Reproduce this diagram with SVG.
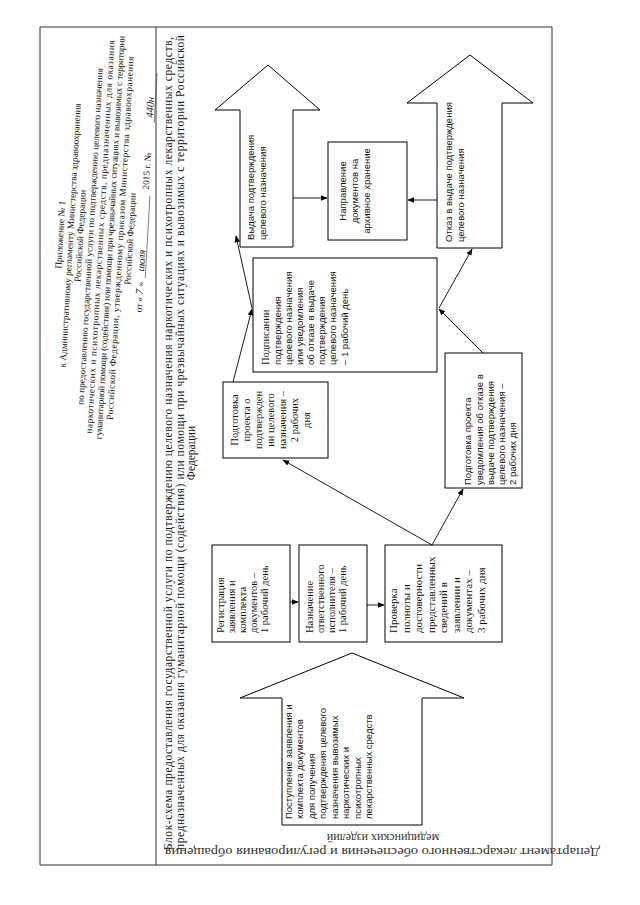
<svg xmlns="http://www.w3.org/2000/svg" width="640" height="905" viewBox="0 0 640 905">
<defs>
<marker id="ah" viewBox="0 0 10 10" refX="9" refY="5" markerWidth="7" markerHeight="7" orient="auto-start-reverse" markerUnits="userSpaceOnUse">
<path d="M0,1 L10,5 L0,9 z" fill="#000"/>
</marker>
<style>
.frame{stroke:#333;stroke-width:1;fill:none}
.box{fill:#fff;stroke:#000;stroke-width:1}
.ln{stroke:#000;stroke-width:0.9;fill:none}
.ul{stroke:#333;stroke-width:0.6;fill:none}
.s{font-family:"Liberation Sans",Arial,sans-serif;font-size:9.5px;fill:#111}
.r{font-family:"Liberation Serif","Times New Roman",serif;font-size:10.5px;fill:#111}
.r2{font-family:"Liberation Serif","Times New Roman",serif;font-size:11px;fill:#111}
.h{font-family:"Liberation Serif","Times New Roman",serif;font-size:9.3px;fill:#111}
.t{font-family:"Liberation Serif","Times New Roman",serif;font-size:11.5px;fill:#111}
.st{font-family:"Liberation Serif","Times New Roman",serif;font-size:12px;fill:#333}
.hw{font-family:"Liberation Serif","Times New Roman",serif;font-style:italic;font-size:10.5px;fill:#222}
</style>
</defs>
<rect width="640" height="905" fill="#fff"/>
<g transform="translate(0,905) rotate(-90)">
<g id="frame">
<line class="frame" x1="40" y1="40" x2="878" y2="40"/>
<line class="frame" x1="878" y1="40" x2="878" y2="552"/>
<line class="frame" x1="40" y1="40" x2="40" y2="552"/>
<line class="frame" x1="40" y1="552" x2="878" y2="552"/>
<line class="frame" x1="40" y1="156" x2="878" y2="156"/>
</g>
<g id="header" transform="rotate(3.3 668 100)">
<text class="h" text-anchor="middle" x="668" y="63.2">Приложение № 1</text>
<text class="h" text-anchor="middle" x="668" y="73.2">к Административному регламенту Министерства здравоохранения</text>
<text class="h" text-anchor="middle" x="668" y="83.2">Российской Федерации</text>
<text class="h" text-anchor="middle" x="668" y="93.2">по предоставлению государственной услуги по подтверждению целевого назначения</text>
<text class="h" x="471" y="103.2" textLength="394" lengthAdjust="spacing">наркотических и психотропных лекарственных средств, предназначенных для оказания</text>
<text class="h" x="466" y="113.2" textLength="404" lengthAdjust="spacing">гуманитарной помощи (содействия) или помощи при чрезвычайных ситуациях и вывозимых с территории</text>
<text class="h" x="486" y="123.2" textLength="364" lengthAdjust="spacing">Российской Федерации, утвержденному приказом Министерства здравоохранения</text>
<text class="h" text-anchor="middle" x="668" y="133.2">Российской Федерации</text>
<text class="h" x="595" y="146">от «</text>
<text class="hw" x="613" y="146">7</text>
<text class="h" x="621" y="146">»</text>
<text class="hw" x="636" y="146">июля</text>
<line class="ul" x1="630" y1="147.5" x2="712" y2="147.5"/>
<text class="h" x="718" y="146">2015 г. №</text>
<text class="hw" x="790" y="146">440н</text>
<line class="ul" x1="785" y1="147.5" x2="835" y2="147.5"/>
</g>
<g id="title">
<text class="t" x="55" y="172" textLength="813" lengthAdjust="spacing">Блок-схема предоставления государственной услуги по подтверждению целевого назначения наркотических и психотропных лекарственных средств,</text>
<text class="t" x="55" y="183.5" textLength="815" lengthAdjust="spacing">предназначенных для оказания гуманитарной помощи (содействия) или помощи при чрезвычайных ситуациях и вывозимых с территории Российской</text>
<text class="t" text-anchor="middle" x="452" y="195">Федерации</text>
</g>
<g id="n-postuplenie">
<polygon class="box" points="80,282 207,282 207,240 252,352 207,464 207,422 80,422"/>
<text class="s" x="86" y="291.5">Поступление заявления и</text>
<text class="s" x="86" y="303">комплекта документов</text>
<text class="s" x="86" y="314.5">для получения</text>
<text class="s" x="86" y="326">подтверждения целевого</text>
<text class="s" x="86" y="337.5">назначения вывозимых</text>
<text class="s" x="86" y="349">наркотических и</text>
<text class="s" x="86" y="360.5">психотропных</text>
<text class="s" x="86" y="372">лекарственных средств</text>
</g>
<g id="n-registr">
<rect class="box" x="263" y="212" width="97" height="78"/>
<text class="r" x="272" y="224">Регистрация</text>
<text class="r" x="272" y="235">заявления и</text>
<text class="r" x="272" y="246">комплекта</text>
<text class="r" x="272" y="257">документов –</text>
<text class="r" x="272" y="268">1 рабочий день</text>
</g>
<g id="n-naznach">
<rect class="box" x="263" y="299" width="97" height="68"/>
<text class="r" x="272" y="313">Назначение</text>
<text class="r" x="272" y="324">ответственного</text>
<text class="r" x="272" y="335">исполнителя –</text>
<text class="r" x="272" y="346">1 рабочий день</text>
</g>
<g id="n-proverka">
<rect class="box" x="263" y="385" width="97" height="117"/>
<text class="r2" x="272" y="397">Проверка</text>
<text class="r2" x="272" y="409.5">полноты и</text>
<text class="r2" x="272" y="422">достоверности</text>
<text class="r2" x="272" y="434.5">представленных</text>
<text class="r2" x="272" y="447">сведений в</text>
<text class="r2" x="272" y="459.5">заявлении и</text>
<text class="r2" x="272" y="472">документах –</text>
<text class="r2" x="272" y="484.5">3 рабочих дня</text>
</g>
<g id="n-podg-podtv">
<rect class="box" x="447" y="223" width="76" height="105"/>
<text class="r" text-anchor="middle" x="485" y="238">Подготовка</text>
<text class="r" text-anchor="middle" x="485" y="250">проекта о</text>
<text class="r" text-anchor="middle" x="485" y="262">подтвержден</text>
<text class="r" text-anchor="middle" x="485" y="274">ии целевого</text>
<text class="r" text-anchor="middle" x="485" y="286">назначения –</text>
<text class="r" text-anchor="middle" x="485" y="298">2 рабочих</text>
<text class="r" text-anchor="middle" x="485" y="310">дня</text>
</g>
<g id="n-podg-uved">
<rect class="box" x="417" y="445" width="135" height="77"/>
<text class="s" x="420" y="471">Подготовка проекта</text>
<text class="s" x="420" y="483">уведомления об отказе в</text>
<text class="s" x="420" y="494">выдаче подтверждения</text>
<text class="s" x="420" y="505">целевого назначения –</text>
<text class="s" x="420" y="516">2 рабочих дня</text>
</g>
<g id="n-podpisanie">
<rect class="box" x="533" y="253" width="114" height="184"/>
<text class="r" x="540" y="269">Подписании</text>
<text class="s" x="540" y="281">подтверждения</text>
<text class="s" x="540" y="292">целевого назначения</text>
<text class="s" x="540" y="303">или уведомления</text>
<text class="s" x="540" y="314">об отказе в выдаче</text>
<text class="s" x="540" y="325">подтверждения</text>
<text class="s" x="540" y="336">целевого назначения</text>
<text class="s" x="540" y="348">– 1 рабочий день</text>
</g>
<g id="n-vydacha">
<polygon class="box" points="658,240 795,240 795,215 840,268 795,320 795,293 658,293"/>
<text class="s" x="665" y="254">Выдача подтверждения</text>
<text class="s" x="665" y="266">целевого назначения</text>
</g>
<g id="n-napravlenie">
<rect class="box" x="665" y="328" width="98" height="79"/>
<text class="s" text-anchor="middle" x="714" y="346">Направление</text>
<text class="s" text-anchor="middle" x="714" y="358">документов на</text>
<text class="s" text-anchor="middle" x="714" y="370">архивное хранение</text>
</g>
<g id="n-otkaz">
<polygon class="box" points="657,437 802,437 802,407 850,470 802,533 802,502 657,502"/>
<text class="s" x="663" y="452">Отказ в выдаче подтверждения</text>
<text class="s" x="663" y="464">целевого назначения</text>
</g>
<g id="connectors">
<line class="ln" x1="303" y1="290" x2="303" y2="298" marker-end="url(#ah)"/>
<line class="ln" x1="300" y1="367" x2="300" y2="384" marker-end="url(#ah)"/>
<line class="ln" x1="360" y1="432" x2="445" y2="283" marker-end="url(#ah)"/>
<line class="ln" x1="360" y1="432" x2="416" y2="463" marker-end="url(#ah)"/>
<line class="ln" x1="523" y1="233" x2="596" y2="252" marker-end="url(#ah)"/>
<line class="ln" x1="597" y1="252" x2="669" y2="236" marker-end="url(#ah)"/>
<line class="ln" x1="552" y1="483" x2="596" y2="439" marker-end="url(#ah)"/>
<line class="ln" x1="597" y1="439" x2="656" y2="472" marker-end="url(#ah)"/>
<line class="ln" x1="707" y1="293" x2="707" y2="327" marker-end="url(#ah)"/>
<line class="ln" x1="705" y1="437" x2="705" y2="408" marker-end="url(#ah)"/>
</g>
</g>
<g id="stamp" transform="rotate(180 320 850)">
<text class="st" x="40" y="852" textLength="435" lengthAdjust="spacingAndGlyphs">Департамент лекарственного обеспечения и регулирования обращения</text>
<text class="st" text-anchor="middle" x="257" y="866">медицинских изделий</text>
</g>
</svg>
